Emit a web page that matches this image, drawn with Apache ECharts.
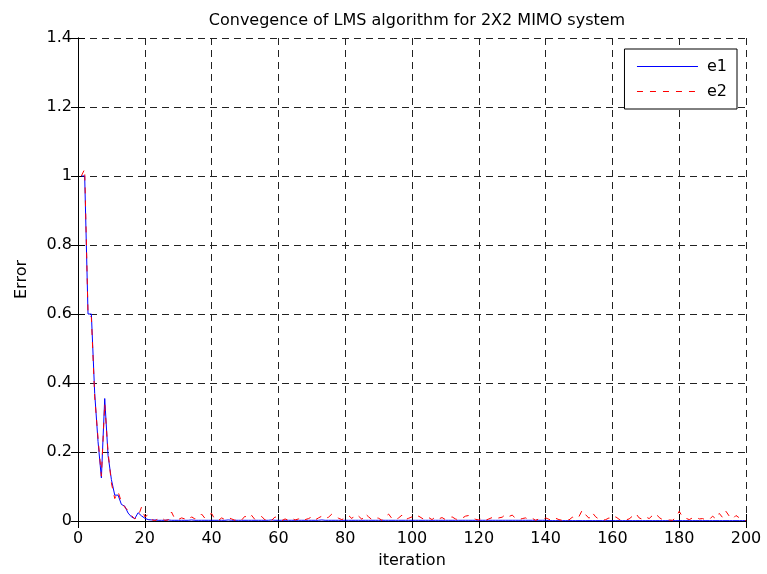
<!DOCTYPE html>
<html>
<head>
<meta charset="utf-8">
<title>Convegence of LMS algorithm for 2X2 MIMO system</title>
<script src="https://cdn.jsdelivr.net/npm/echarts@6/dist/echarts.min.js"></script>
<style>
  html, body { margin: 0; padding: 0; background: #fff; }
  #chart { width: 767px; height: 574px; }
</style>
</head>
<body>
<div id="chart"></div>
<script>
// Error of each output per LMS iteration (iterations 1..200)
const e1 = [
  1.0, 1.0, 0.6, 0.6, 0.37, 0.23, 0.125, 0.355, 0.19, 0.12,
  0.075, 0.075, 0.048, 0.043, 0.023, 0.012, 0.007, 0.024, 0.015, 0.008,
  0.004, 0.003, 0.003, 0.002, 0.002, 0.002, 0.003, 0.002, 0.002, 0.002,
  0.002, 0.002, 0.002, 0.003, 0.002, 0.002, 0.002, 0.002, 0.002, 0.002,
  0.002, 0.002, 0.002, 0.002, 0.003, 0.002, 0.002, 0.002, 0.002, 0.002,
  0.002, 0.002, 0.002, 0.002, 0.002, 0.002, 0.002, 0.003, 0.002, 0.002,
  0.002, 0.002, 0.002, 0.002, 0.002, 0.002, 0.002, 0.002, 0.002, 0.002,
  0.002, 0.002, 0.003, 0.002, 0.002, 0.002, 0.002, 0.002, 0.002, 0.002,
  0.002, 0.002, 0.002, 0.002, 0.002, 0.002, 0.002, 0.002, 0.002, 0.002,
  0.002, 0.002, 0.002, 0.002, 0.002, 0.002, 0.002, 0.002, 0.002, 0.002,
  0.002, 0.002, 0.002, 0.002, 0.002, 0.002, 0.002, 0.002, 0.002, 0.002,
  0.002, 0.002, 0.002, 0.002, 0.002, 0.002, 0.002, 0.002, 0.002, 0.002,
  0.002, 0.002, 0.002, 0.002, 0.002, 0.002, 0.002, 0.002, 0.002, 0.002,
  0.002, 0.002, 0.002, 0.002, 0.002, 0.002, 0.002, 0.002, 0.002, 0.002,
  0.001, 0.001, 0.001, 0.001, 0.001, 0.001, 0.001, 0.001, 0.001, 0.001,
  0.001, 0.001, 0.001, 0.001, 0.001, 0.001, 0.001, 0.001, 0.001, 0.001,
  0.001, 0.001, 0.001, 0.001, 0.001, 0.001, 0.001, 0.001, 0.001, 0.001,
  0.001, 0.001, 0.001, 0.001, 0.001, 0.001, 0.001, 0.001, 0.001, 0.001,
  0.001, 0.001, 0.001, 0.001, 0.001, 0.001, 0.001, 0.001, 0.001, 0.001,
  0.001, 0.001, 0.001, 0.001, 0.001, 0.001, 0.001, 0.001, 0.001, 0.001
];
const e2 = [
  1.0, 1.02, 0.6, 0.59, 0.36, 0.24, 0.13, 0.34, 0.2, 0.11,
  0.065, 0.085, 0.055, 0.04, 0.03, 0.016, 0.006, 0.013, 0.04, 0.012,
  0.018, 0.004, 0.001, 0.006, 0.01, 0.002, 0.003, 0.026, 0.006, 0.004,
  0.009, 0.006, 0.002, 0.012, 0.006, 0.01, 0.02, 0.008, 0.017, 0.022,
  0.004, 0.001, 0.009, 0.004, 0.01, 0.006, 0.002, 0.007, 0.003, 0.014,
  0.006, 0.016, 0.004, 0.009, 0.013, 0.003, 0.008, 0.002, 0.012, 0.005,
  0.001, 0.006, 0.002, 0.008, 0.003, 0.006, 0.011, 0.004, 0.007, 0.012,
  0.003, 0.009, 0.014, 0.007, 0.011, 0.02, 0.014, 0.008, 0.004, 0.009,
  0.016, 0.007, 0.019, 0.014, 0.005, 0.021, 0.012, 0.004, 0.01, 0.008,
  0.002, 0.013, 0.02, 0.007, 0.003, 0.009, 0.017, 0.004, 0.008, 0.012,
  0.006, 0.014, 0.008, 0.003, 0.01, 0.004, 0.012, 0.006, 0.01, 0.004,
  0.009, 0.012, 0.006, 0.003, 0.008, 0.014, 0.016, 0.01, 0.005, 0.003,
  0.008, 0.002, 0.006, 0.01, 0.005, 0.009, 0.011, 0.019, 0.013, 0.017,
  0.008, 0.004, 0.007, 0.009, 0.004, 0.008, 0.002, 0.006, 0.003, 0.009,
  0.005, 0.001, 0.008, 0.004, 0.002, 0.006, 0.003, 0.011, 0.006, 0.013,
  0.032, 0.018, 0.008, 0.024, 0.012, 0.005, 0.002, 0.004, 0.009, 0.004,
  0.012, 0.005, 0.001, 0.003, 0.006, 0.014, 0.022, 0.009, 0.005, 0.012,
  0.007, 0.016, 0.022, 0.01, 0.004, 0.002, 0.003, 0.002, 0.01, 0.028,
  0.012, 0.008, 0.004, 0.009, 0.012, 0.006, 0.007, 0.003, 0.004, 0.014,
  0.006, 0.022, 0.01, 0.028, 0.014, 0.006, 0.016, 0.009, 0.004, 0.001
];
const seriesNames = ['e1', 'e2'];
const xTicks = { min: 0, max: 200, step: 20 };
const yTicks = { min: 0, max: 1.4, step: 0.2 };

const FONT = '"DejaVu Sans", Verdana, sans-serif';
const BLUE = '#0000ff';
const RED = '#ff0000';
const e1Line = { color: BLUE, width: 1, type: 'solid' };
const e2Line = { color: RED, width: 1, type: [6, 7] };
const gridLine = { show: true, lineStyle: { color: '#222', width: 1, type: [7, 5] } };
const frameLine = { show: true, lineStyle: { color: '#000', width: 1 } };
const innerTick = { show: true, inside: true, length: 7, lineStyle: { color: '#000' } };
const tickLabel = { color: '#000', fontSize: 16, fontFamily: FONT };

const chart = echarts.init(document.getElementById('chart'), null, { renderer: 'canvas' });

chart.setOption({
  animation: false,
  backgroundColor: '#fff',
  title: {
    text: 'Convegence of LMS algorithm for 2X2 MIMO system',
    left: 412,
    textAlign: 'center',
    top: 8,
    textStyle: { color: '#000', fontSize: 16, fontWeight: 'normal', fontFamily: FONT }
  },
  grid: { left: 78, right: 21, top: 38, bottom: 51, containLabel: false },
  legend: {
    data: [
      { name: seriesNames[0], lineStyle: e1Line, itemStyle: { color: BLUE, opacity: 0 } },
      { name: seriesNames[1], lineStyle: e2Line, itemStyle: { color: RED, opacity: 0 } }
    ],
    orient: 'vertical',
    right: 30,
    top: 49,
    padding: [9, 10, 9, 12],
    itemWidth: 61,
    itemHeight: 14,
    itemGap: 8,
    backgroundColor: '#fff',
    borderColor: '#000',
    borderWidth: 1,
    borderRadius: 0,
    textStyle: { color: '#000', fontSize: 16, fontFamily: FONT, lineHeight: 17, padding: [0, 0, 0, 4] }
  },
  xAxis: [
    {
      type: 'value', position: 'bottom',
      min: xTicks.min, max: xTicks.max, interval: xTicks.step,
      name: 'iteration', nameLocation: 'middle', nameGap: 32,
      nameTextStyle: { color: '#000', fontSize: 16, fontFamily: FONT },
      axisLine: frameLine, axisTick: innerTick,
      axisLabel: Object.assign({ margin: 10 }, tickLabel),
      splitLine: gridLine
    },
    {
      type: 'value', position: 'top',
      min: xTicks.min, max: xTicks.max, interval: xTicks.step,
      axisLine: frameLine, axisTick: innerTick,
      axisLabel: { show: false }, splitLine: { show: false }
    }
  ],
  yAxis: [
    {
      type: 'value', position: 'left',
      min: yTicks.min, max: yTicks.max, interval: yTicks.step,
      name: 'Error', nameLocation: 'middle', nameGap: 48, nameRotate: 90,
      nameTextStyle: { color: '#000', fontSize: 16, fontFamily: FONT },
      axisLine: frameLine, axisTick: innerTick,
      axisLabel: Object.assign({ margin: 6, formatter: v => String(+v.toFixed(1)) }, tickLabel),
      splitLine: gridLine
    },
    {
      type: 'value', position: 'right',
      min: yTicks.min, max: yTicks.max, interval: yTicks.step,
      axisLine: frameLine, axisTick: innerTick,
      axisLabel: { show: false }, splitLine: { show: false }
    }
  ],
  series: [
    {
      name: seriesNames[0], type: 'line', xAxisIndex: 0, yAxisIndex: 0,
      data: e1.map((v, i) => [i + 1, v]),
      symbol: 'none', smooth: false,
      color: BLUE,
      lineStyle: e1Line,
      itemStyle: { color: BLUE }
    },
    {
      name: seriesNames[1], type: 'line', xAxisIndex: 0, yAxisIndex: 0,
      data: e2.map((v, i) => [i + 1, v]),
      symbol: 'none', smooth: false,
      color: RED,
      lineStyle: e2Line,
      itemStyle: { color: RED }
    }
  ]
});
</script>
</body>
</html>
